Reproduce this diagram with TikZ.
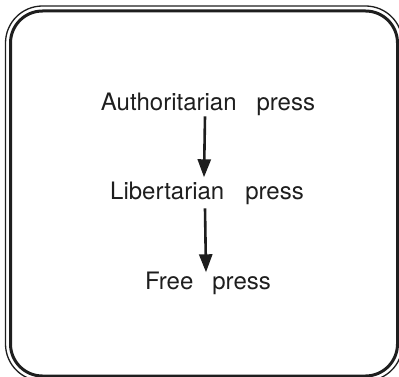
\documentclass[tikz,border=0pt]{standalone}
\usepackage{fontspec}
\setmainfont{TeX Gyre Heros}
\usetikzlibrary{arrows.meta}
\definecolor{ink}{HTML}{1E1E1E}
\tikzset{
  label/.style={inner sep=0pt, anchor=base, text=ink, font=\fontsize{24}{28}\selectfont},
  flow/.style={draw=ink, line width=2.6pt, -{Triangle[width=13pt,length=18pt]}},
  frameouter/.style={draw=ink, line width=1.3pt, rounded corners=37pt},
  frameinner/.style={draw=ink, line width=3pt, rounded corners=32pt}
}
\begin{document}
\begin{tikzpicture}[x=1pt,y=-1pt]
  \useasboundingbox (0,0) rectangle (399,377);
  \clip (0,0) rectangle (399,377);
  % double-lined rounded frame
  \draw[frameouter] (5.5,6) rectangle (402.5,381);
  \draw[frameinner] (10.5,11) rectangle (397.5,376);
  % stages
  \node[label] (auth) at (208,111) {Authoritarian\hspace{20pt}press};
  \node[label] (lib)  at (207,199) {Libertarian\hspace{21pt}press};
  \node[label] (free) at (208,289) {Free\hspace{19pt}press};
  % transitions
  \draw[flow] ([xshift=-3pt]auth.south) -- ([xshift=-3pt,yshift=4pt]lib.north);
  \draw[flow] ([xshift=-2pt,yshift=-4pt]lib.south) -- ([xshift=-2pt,yshift=-1pt]free.north);
\end{tikzpicture}
\end{document}
